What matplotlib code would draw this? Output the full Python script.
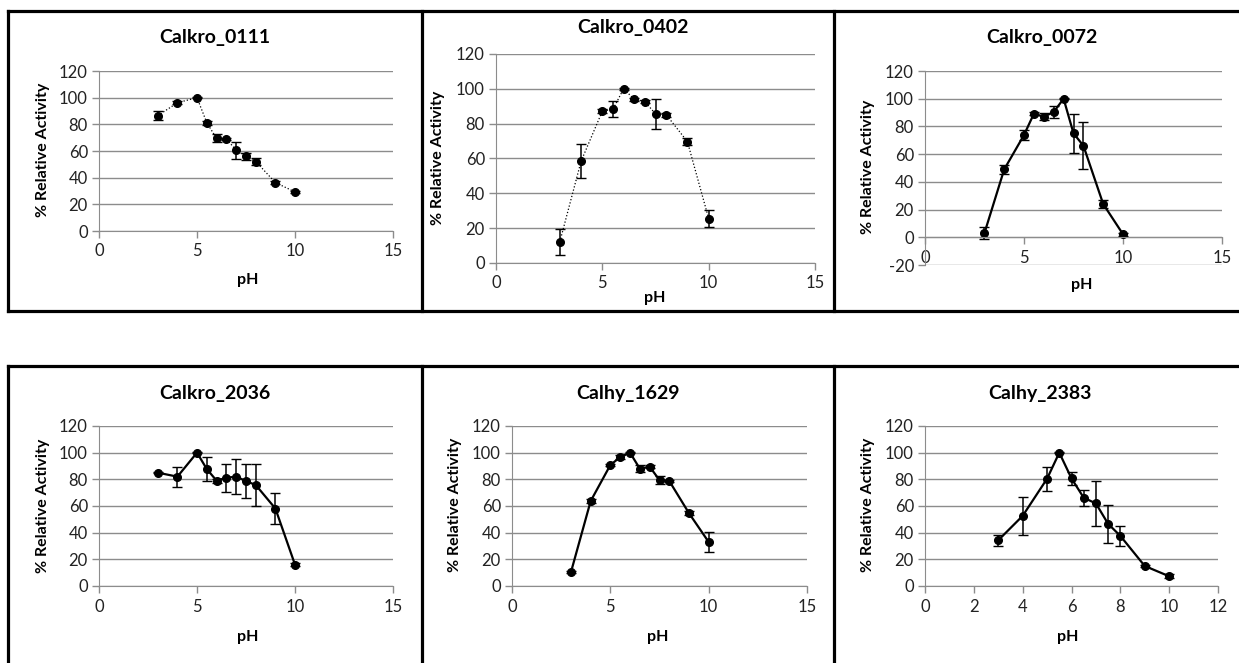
import matplotlib
matplotlib.use("Agg")
import matplotlib.pyplot as plt
from matplotlib.lines import Line2D

plt.rcParams['font.family'] = ['Lato', 'DejaVu Sans']
plt.rcParams['axes.unicode_minus'] = False

# pH values for each panel
ph = [3, 4, 5, 5.5, 6, 6.5, 7, 7.5, 8, 9, 10]

titles = ["Calkro_0111", "Calkro_0402", "Calkro_0072",
          "Calkro_2036", "Calhy_1629", "Calhy_2383"]

act_0111 = [86.5, 96.2, 100, 81.2, 69.4, 69.0, 60.6, 55.9, 52.1, 36.3, 29.3]
err_0111 = [3.5, 1.0, 0.5, 1.5, 3.0, 1.0, 6.5, 2.5, 2.5, 1.0, 1.0]

act_0402 = [12.1, 58.4, 87.2, 88.3, 100, 94.0, 92.7, 85.6, 85.2, 69.7, 25.5]
err_0402 = [7.3, 9.8, 1.0, 4.6, 0.5, 1.0, 1.0, 8.6, 1.2, 2.0, 5.0]

act_0072 = [2.9, 49.0, 73.8, 89.2, 87.0, 90.4, 100, 75.0, 66.1, 24.0, 2.2]
err_0072 = [4.2, 3.0, 3.5, 1.0, 2.5, 4.5, 0.5, 14.0, 17.0, 3.0, 1.0]

act_2036 = [85.0, 82.0, 100, 87.7, 79.0, 81.2, 82.0, 78.7, 75.7, 58.1, 16.0]
err_2036 = [0.5, 7.6, 0.5, 9.0, 1.5, 10.5, 13.0, 13.0, 15.5, 11.5, 1.0]

act_1629 = [10.5, 63.7, 90.7, 96.7, 100, 88.0, 89.5, 79.4, 78.7, 54.6, 33.0]
err_1629 = [0.5, 1.5, 1.0, 1.5, 0.5, 2.5, 1.0, 3.0, 1.0, 1.5, 7.2]

act_2383 = [34.3, 52.6, 80.5, 100, 80.7, 66.2, 61.9, 46.6, 37.6, 15.0, 7.3]
err_2383 = [4.0, 14.0, 9.0, 0.5, 5.0, 6.0, 17.0, 14.0, 7.5, 1.0, 1.5]

W, H = 1239, 663
fig = plt.figure(figsize=(W / 100, H / 100), dpi=100)


def fx(px):
    return px / W


def fy(py):
    return 1 - py / H


def border(x0, y0, x1, y1):
    fig.add_artist(Line2D([fx(x0), fx(x1)], [fy(y0), fy(y1)], transform=fig.transFigure,
                          color="black", lw=2.3, solid_capstyle="projecting"))


# panel frames
border(8, 11, 1239, 11)
border(8, 311, 1239, 311)
for xv in (8, 422, 834):
    border(xv, 11, xv, 311)
border(8, 366, 1239, 366)
for xv in (8, 422, 834):
    border(xv, 366, xv, 663)

# (left, right, top, bottom) pixel box, ylim, xticks, line style, title pos, ylabel pos, xlabel pos
panels = [
    (act_0111, err_0111, (99, 393, 71, 231), (0, 120), [0, 5, 10, 15], ":", 0.9, (215, 38), (43, 150), (248, 280)),
    (act_0402, err_0402, (496, 815, 54, 263), (0, 120), [0, 5, 10, 15], ":", 0.9, (633, 27), (438, 158), (655, 298)),
    (act_0072, err_0072, (925, 1222, 71, 265), (-20, 120), [0, 5, 10, 15], "-", 1.6, (1042, 38), (868, 167), (1082, 285)),
    (act_2036, err_2036, (99, 393, 426, 586), (0, 120), [0, 5, 10, 15], "-", 1.6, (215, 393), (43, 506), (248, 637)),
    (act_1629, err_1629, (512, 807, 426, 586), (0, 120), [0, 5, 10, 15], "-", 1.6, (628, 393), (455, 505), (658, 637)),
    (act_2383, err_2383, (925, 1218, 426, 586), (0, 120), [0, 2, 4, 6, 8, 10, 12], "-", 1.6, (1040, 393), (868, 505), (1068, 637)),
]

axis_gray = "#8c8c8c"

for i, (act, err, box, ylim, xt, ls, lw, tpos, ylpos, xlpos) in enumerate(panels):
    l, r, t, b = box
    ax = fig.add_axes([fx(l), fy(b), (r - l) / W, (b - t) / H])
    ax.errorbar(ph, act, yerr=err, color="black", ls=ls, lw=lw, marker="o", markersize=5.5,
                ecolor="black", elinewidth=1.1, capsize=3.5, capthick=1.0)
    ax.set_xlim(xt[0], xt[-1])
    ax.set_ylim(*ylim)
    ax.set_xticks(xt)
    ax.set_yticks(range(ylim[0], 121, 20))
    ax.yaxis.grid(True, color=axis_gray, lw=1.0)
    ax.set_axisbelow(True)
    for s in ("top", "right"):
        ax.spines[s].set_visible(False)
    ax.spines["left"].set_color(axis_gray)
    ax.spines["bottom"].set_color(axis_gray)
    if ylim[0] < 0:
        ax.spines["bottom"].set_position(("data", 0))
    ax.tick_params(axis="both", colors=axis_gray, labelcolor="#222222", labelsize=12,
                   length=5, width=1.0, direction="out")
    ax.tick_params(axis="x", pad=4)
    ax.tick_params(axis="y", pad=3)
    fig.text(fx(tpos[0]), fy(tpos[1]), titles[i], ha="center", va="center",
             fontsize=14, fontweight="bold")
    fig.text(fx(ylpos[0]), fy(ylpos[1]), "% Relative Activity", ha="center", va="center",
             rotation=90, fontsize=11.5, fontweight="bold")
    fig.text(fx(xlpos[0]), fy(xlpos[1]), "pH", ha="center", va="center",
             fontsize=11.5, fontweight="bold")

fig.savefig("out.png", dpi=100, facecolor="white")
